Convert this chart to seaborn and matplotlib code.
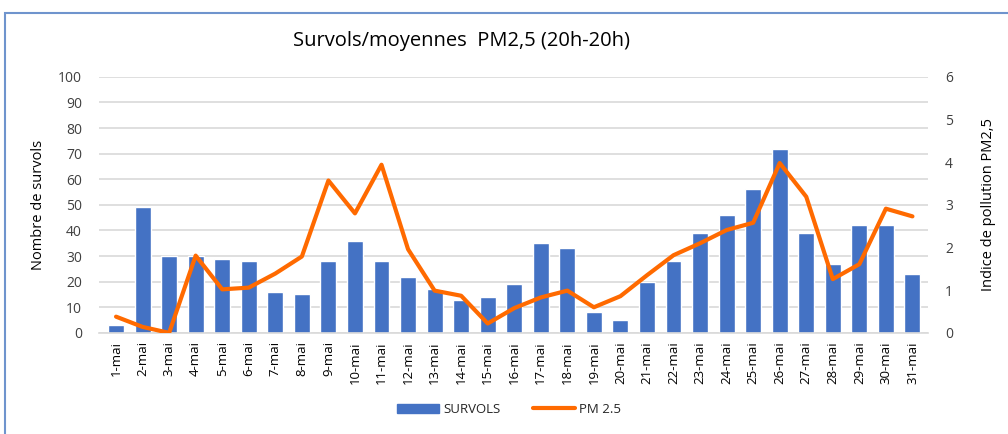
import seaborn as sns
from matplotlib import pyplot as plt
from matplotlib.patches import Rectangle
from matplotlib.lines import Line2D
import pandas as pd

# données
jours = [f'{i}-mai' for i in range(1, 32)]
survols = [3, 49, 30, 30, 29, 28, 16, 15, 28, 36, 28, 22, 17, 13, 14, 19,
           35, 33, 8, 5, 20, 28, 39, 46, 56, 72, 39, 27, 42, 42, 23]
pm25 = [0.38, 0.14, 0.0, 1.81, 1.02, 1.06, 1.39, 1.79, 3.57, 2.80, 3.94,
        1.96, 0.99, 0.87, 0.22, 0.58, 0.83, 0.99, 0.60, 0.86, 1.35, 1.82,
        2.10, 2.41, 2.58, 3.98, 3.19, 1.26, 1.61, 2.91, 2.73]

bleu = '#4472C4'
orange = '#FF6A00'
gris = '#D9D9D9'
texte = '#404040'

sns.set_theme(style='white')
plt.rcParams['font.family'] = ['Open Sans', 'DejaVu Sans']

df = pd.DataFrame({'jour': jours, 'SURVOLS': survols, 'PM 2.5': pm25})

fig = plt.figure(figsize=(10.08, 4.34), dpi=100)
ax = fig.add_axes([0.098, 0.233, 0.823, 0.590])

sns.barplot(data=df, x='jour', y='SURVOLS', color=bleu, width=0.6,
            saturation=1, ax=ax, zorder=2)
ax.set_ylim(0, 100)
ax.set_yticks(range(0, 101, 10))
ax.yaxis.grid(True, color=gris, linewidth=1.2, zorder=0)
ax.set_axisbelow(True)
ax.set_xlim(-0.65, 30.6)
ax.set_xlabel('')
ax.set_ylabel('Nombre de survols', fontsize=10.5, color='black', labelpad=9)
ax.tick_params(axis='x', rotation=90, labelsize=9.5, colors='black', length=0, pad=6)
ax.tick_params(axis='y', labelsize=10, colors=texte, length=0, pad=12)
for s in ['top', 'right', 'left']:
    ax.spines[s].set_visible(False)
ax.spines['bottom'].set_color(gris)
ax.spines['bottom'].set_linewidth(1.2)

ax2 = ax.twinx()
sns.lineplot(x=list(range(len(jours))), y=pm25, color=orange, linewidth=3,
             ax=ax2, zorder=3)
ax2.set_ylim(0, 6)
ax2.set_yticks(range(0, 7))
ax2.set_ylabel('Indice de pollution PM2,5', fontsize=10.5, color='black',
               labelpad=20)
ax2.tick_params(axis='y', labelsize=10, colors=texte, length=0, pad=12)
for s in ax2.spines.values():
    s.set_visible(False)
ax2.set_xlim(-0.65, 30.6)

fig.text(0.458, 0.905, 'Survols/moyennes  PM2,5 (20h-20h)', ha='center',
         va='center', fontsize=14.5, color='black')

poignees = [Rectangle((0, 0), 1, 1, color=bleu),
            Line2D([0], [0], color=orange, linewidth=3)]
fig.legend(poignees, ['SURVOLS', 'PM 2.5'], loc='center',
           bbox_to_anchor=(0.505, 0.057), ncol=2, frameon=False, fontsize=9.5,
           handlelength=3.2, columnspacing=2.5, handletextpad=0.3)

# cadre bleu autour du graphique
fig.patches.append(Rectangle((0.005, -0.05), 1.2, 1.02, transform=fig.transFigure,
                             fill=False, edgecolor='#6F94CD', linewidth=1.5))

fig.savefig('out.png', dpi=100)
